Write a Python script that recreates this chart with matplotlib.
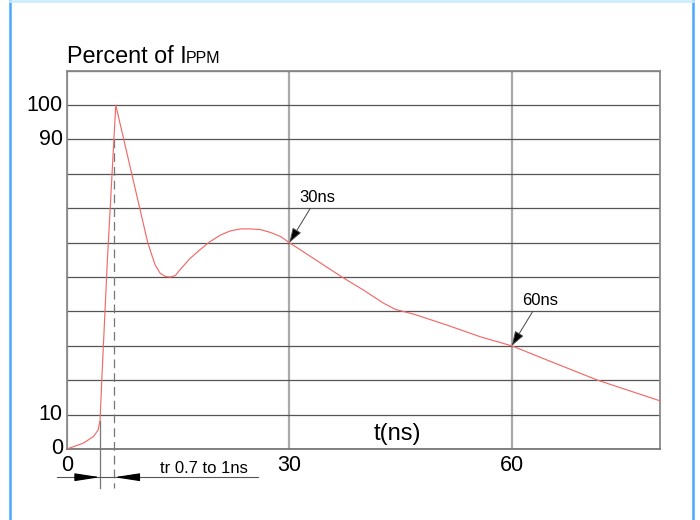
import matplotlib
matplotlib.use('Agg')
import matplotlib.pyplot as plt
from matplotlib.lines import Line2D

plt.rcParams['font.family'] = ['Liberation Sans', 'DejaVu Sans']

# waveform: time in ns, current in percent of Ippm
t_ns = [0, 2.2, 3.55, 4.2, 4.46, 4.69, 5.45, 6.58, 10.86, 11.44, 11.9,
        12.57, 13.24, 13.9, 14.6, 15.27, 16.6, 17.97, 19.3, 20.7, 22.0, 23.4, 24.7,
        26.1, 27.4, 28.8, 30, 37.1, 40.0, 42.7, 44.3, 46.8, 51.3, 55.8,
        60, 65.3, 71.6, 80]
pct = [0, 1.7, 3.6, 5.5, 8.4, 20, 55, 100, 60.3, 56.4, 53.5,
       51.1, 50.2, 50.0, 50.4, 52.2, 55.4, 58.0, 60.3, 62.2, 63.4, 64.0, 64.0,
       63.8, 63.0, 61.8, 60, 50, 46.2, 42.4, 40.6, 39.2, 36, 32.6,
       30, 25.4, 20, 14]

y_ticks = list(range(0, 111, 10))
y_labels = ['0', '10', '', '', '', '', '', '', '', '90', '100', '']
x_ticks = [0, 30, 60]
x_labels = ['0', '30', '60']

# rise time markers (10 % and 90 % points)
t10, y10 = 4.46, 8
t90, y90 = 6.39, 90

# callouts: (label, point t, point pct)
marks = [('30ns', 30, 60), ('60ns', 60, 30)]

fig = plt.figure(figsize=(7, 5.2), dpi=100)
ax = fig.add_axes([67 / 700, 1 - 449 / 520, (660 - 67) / 700, (449 - 70.7) / 520])

ax.set_xlim(0, 80)
ax.set_ylim(0, 110)
ax.set_yticks(y_ticks, labels=y_labels)
ax.set_xticks(x_ticks, labels=x_labels)
ax.tick_params(length=0, labelsize=15.5, pad=3, colors='black')
ax.tick_params(axis='x', pad=4)
for lab in ax.get_yticklabels():
    lab.set_va('center')

ax.grid(axis='y', color='#555555', lw=0.9)
ax.grid(axis='x', color='#aaaaaa', lw=1.6)
ax.set_axisbelow(True)
for s in ax.spines.values():
    s.set_color('#8a8a8a')
    s.set_linewidth(1.3)
ax.spines['bottom'].set_color('#777777')

ax.plot(t_ns, pct, color='#f26a6a', lw=0.85, zorder=3, solid_joinstyle='round')

# rise time dimension under the axis
dim_y = -8.2
ax.plot([t10, t10], [y10, -11.4], color='#777777', lw=0.9, clip_on=False)
ax.plot([t90, t90], [y90, -11.4], color='#777777', lw=0.9, ls=(0, (7, 4)), clip_on=False)
ax.plot([-1.3, 25.8], [dim_y, dim_y], color='#555555', lw=0.8, clip_on=False)
arrow_kw = dict(arrowstyle='-|>,head_length=1.55,head_width=0.24', color='black',
                mutation_scale=10, shrinkA=0, shrinkB=0, lw=0.8)
ax.annotate('', xy=(t10, dim_y), xytext=(t10 - 3.0, dim_y), arrowprops=arrow_kw,
            annotation_clip=False)
ax.annotate('', xy=(t90, dim_y), xytext=(t90 + 2.9, dim_y), arrowprops=arrow_kw,
            annotation_clip=False)
ax.text(12.5, -6.9, 'tr 0.7 to 1ns', fontsize=12, va='baseline', ha='left', clip_on=False)

# 30ns / 60ns callouts
for lab, tx, py in marks:
    ax.annotate('', xy=(tx, py), xytext=(tx + 2.8, py + 9.9),
                arrowprops=dict(arrowstyle='-|>,head_length=0.45,head_width=0.15',
                                color='#444444', fc='black', mutation_scale=20,
                                shrinkA=0, shrinkB=0, lw=0.7))
    ax.text(tx + 1.4, py + 11.9, lab, fontsize=12, va='baseline', ha='left')

ax.text(41.4, 2.6, 't(ns)', fontsize=17, va='baseline', ha='left')

# title with small caps subscript part
fig.text(66.7 / 700, 1 - 63.3 / 520, 'Percent of I', fontsize=16.8, va='baseline', ha='left')
fig.text(185.5 / 700, 1 - 63.3 / 520, 'PPM', fontsize=11.5, va='baseline', ha='left')

# light blue page frame
fig.add_artist(Line2D([10 / 700, 10 / 700], [0, 1], color='#4aa8ff', lw=1.8))
fig.add_artist(Line2D([693 / 700, 693 / 700], [0, 1], color='#4aa8ff', lw=1.8))
fig.add_artist(Line2D([10 / 700, 693 / 700], [1 - 1 / 520, 1 - 1 / 520], color='#c8ecff', lw=1.8))

fig.savefig('out.png', dpi=100)
